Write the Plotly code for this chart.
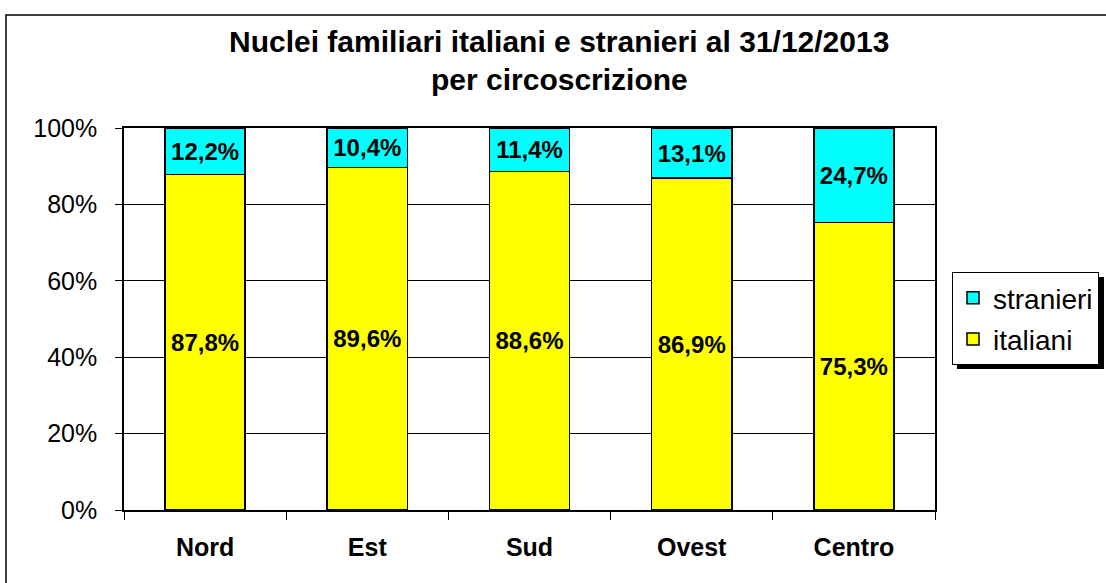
import plotly.graph_objects as go

categories = ["Nord", "Est", "Sud", "Ovest", "Centro"]
italiani = [87.8, 89.6, 88.6, 86.9, 75.3]
stranieri = [12.2, 10.4, 11.4, 13.1, 24.7]
y_ticks = [0, 20, 40, 60, 80, 100]
y_tick_labels = ["0%", "20%", "40%", "60%", "80%", "100%"]
title_line1 = "Nuclei familiari italiani e stranieri al 31/12/2013"
title_line2 = "per circoscrizione"


def fmt(v):
    return f"{v:.1f}%".replace(".", ",")


W, H = 1106, 583
L, R, T, B = 124, 935, 128, 510
pw, ph = R - L, B - T


def px(x):
    return (x - L) / pw


def py(y):
    return (B - y) / ph


FONT = "Liberation Sans, Arial, sans-serif"

fig = go.Figure()
fig.add_trace(go.Bar(
    x=categories, y=italiani, name="italiani",
    marker=dict(color="#FFFF00", line=dict(color="black", width=1.5)),
    text=[fmt(v) for v in italiani], textposition="inside",
    insidetextanchor="middle", constraintext="none",
    textfont=dict(family=FONT, size=24, color="black", weight="bold"),
    legendgroup="a", legendrank=2,
))
fig.add_trace(go.Bar(
    x=categories, y=stranieri, name="stranieri",
    marker=dict(color="#00FFFF", line=dict(color="black", width=1.5)),
    text=[fmt(v) for v in stranieri], textposition="inside",
    insidetextanchor="middle", constraintext="none",
    textfont=dict(family=FONT, size=24, color="black", weight="bold"),
    legendgroup="b", legendrank=1,
))

shapes = [
    # outer chart frame
    dict(type="rect", xref="paper", yref="paper",
         x0=px(6), x1=px(1140), y0=py(620), y1=py(15),
         line=dict(color="black", width=1.5), fillcolor="rgba(0,0,0,0)", layer="below"),
    # legend shadow
    dict(type="rect", xref="paper", yref="paper",
         x0=px(957), x1=px(1104), y0=py(369), y1=py(277),
         line=dict(width=0), fillcolor="black", layer="above"),
]

annotations = [
    dict(text=f"<b>{title_line1}</b>", xref="paper", yref="paper",
         x=px(559), y=py(42), showarrow=False, xanchor="center", yanchor="middle",
         font=dict(family=FONT, size=30, color="black")),
    dict(text=f"<b>{title_line2}</b>", xref="paper", yref="paper",
         x=px(559), y=py(79), showarrow=False, xanchor="center", yanchor="middle",
         font=dict(family=FONT, size=30, color="black")),
]

fig.update_layout(
    width=W, height=H,
    margin=dict(l=L, r=W - R, t=T, b=H - B, pad=0, autoexpand=False),
    barmode="stack", bargap=0.505,
    plot_bgcolor="white", paper_bgcolor="white",
    showlegend=True,
    legend=dict(
        x=px(952), y=py(272), xanchor="left", yanchor="top",
        bgcolor="white", bordercolor="black", borderwidth=1,
        font=dict(family=FONT, size=28, color="black"),
        traceorder="grouped", tracegroupgap=2,
    ),
    shapes=shapes, annotations=annotations,
    font=dict(family=FONT, color="black"),
)
fig.update_xaxes(
    showline=True, linecolor="black", linewidth=1.5, mirror=True,
    ticks="outside", tickson="boundaries", ticklen=8, tickcolor="black",
    tickfont=dict(family=FONT, size=25, color="black", weight="bold"),
    ticklabelstandoff=14,
)
fig.update_yaxes(
    range=[0, 100], tickvals=y_ticks, ticktext=y_tick_labels,
    showline=True, linecolor="black", linewidth=1.5, mirror=True,
    showgrid=True, gridcolor="black", gridwidth=1,
    ticks="outside", ticklen=7, tickcolor="black",
    tickfont=dict(family=FONT, size=25, color="black"),
    ticklabelstandoff=13, zeroline=False,
)

fig.write_html(
    "out.html",
    config={"displayModeBar": False},
    post_script="document.body.style.margin='0';document.body.style.overflow='hidden';",
)
